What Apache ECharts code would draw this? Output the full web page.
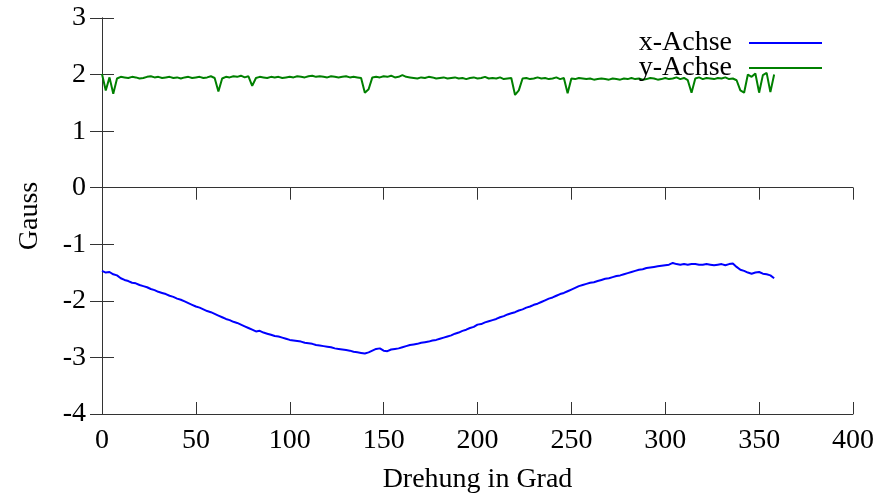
<!DOCTYPE html>
<html>
<head>
<meta charset="utf-8">
<script src="https://cdn.jsdelivr.net/npm/echarts@6/dist/echarts.min.js"></script>
<style>
  html, body { margin: 0; padding: 0; background: #fff; }
  #chart { width: 875px; height: 498px; }
</style>
</head>
<body>
<div id="chart"></div>
<script>
// Drehung in Grad, Schritt 2
const degrees = [];
for (let d = 0; d <= 358; d += 2) degrees.push(d);

const xAchse = [
  -1.47, -1.50, -1.49, -1.53, -1.55, -1.60, -1.63, -1.65, -1.68, -1.69,
  -1.72, -1.74, -1.76, -1.79, -1.81, -1.84, -1.86, -1.88, -1.91, -1.93,
  -1.96, -1.98, -2.01, -2.04, -2.07, -2.10, -2.12, -2.15, -2.18, -2.20,
  -2.23, -2.26, -2.29, -2.32, -2.34, -2.37, -2.39, -2.42, -2.45, -2.48,
  -2.51, -2.54, -2.53, -2.56, -2.58, -2.60, -2.62, -2.63, -2.65, -2.67,
  -2.69, -2.70, -2.71, -2.72, -2.74, -2.75, -2.76, -2.78, -2.79, -2.80,
  -2.81, -2.82, -2.84, -2.85, -2.86, -2.87, -2.88, -2.90, -2.91, -2.92,
  -2.93, -2.91, -2.88, -2.85, -2.84, -2.88, -2.89, -2.86, -2.85, -2.84,
  -2.82, -2.80, -2.78, -2.77, -2.76, -2.74, -2.73, -2.72, -2.70, -2.69,
  -2.67, -2.65, -2.63, -2.61, -2.58, -2.56, -2.53, -2.51, -2.48, -2.46,
  -2.42, -2.41, -2.38, -2.36, -2.34, -2.32, -2.29, -2.27, -2.24, -2.22,
  -2.20, -2.17, -2.15, -2.12, -2.10, -2.07, -2.05, -2.02, -1.99, -1.96,
  -1.94, -1.91, -1.88, -1.86, -1.83, -1.80, -1.77, -1.74, -1.72, -1.70,
  -1.68, -1.67, -1.65, -1.63, -1.61, -1.60, -1.58, -1.56, -1.55, -1.53,
  -1.51, -1.49, -1.47, -1.45, -1.44, -1.42, -1.41, -1.40, -1.39, -1.38,
  -1.37, -1.36, -1.33, -1.35, -1.36, -1.35, -1.36, -1.35, -1.35, -1.36,
  -1.36, -1.35, -1.36, -1.37, -1.36, -1.35, -1.37, -1.35, -1.34, -1.40,
  -1.45, -1.47, -1.50, -1.52, -1.50, -1.49, -1.52, -1.53, -1.55, -1.60
];

const yAchse = [
  2.01, 1.72, 1.95, 1.66, 1.93, 1.96, 1.95, 1.94, 1.96, 1.95,
  1.93, 1.94, 1.96, 1.97, 1.95, 1.96, 1.94, 1.95, 1.96, 1.94,
  1.95, 1.93, 1.95, 1.96, 1.94, 1.95, 1.96, 1.94, 1.95, 1.97,
  1.94, 1.70, 1.93, 1.96, 1.95, 1.97, 1.96, 1.98, 1.95, 1.97,
  1.80, 1.94, 1.96, 1.95, 1.94, 1.96, 1.95, 1.96, 1.94, 1.95,
  1.96, 1.95, 1.97, 1.96, 1.95, 1.97, 1.98, 1.96, 1.97, 1.96,
  1.95, 1.97, 1.96, 1.95, 1.96, 1.97, 1.95, 1.96, 1.95, 1.94,
  1.68, 1.74, 1.95, 1.96, 1.95, 1.97, 1.96, 1.98, 1.95, 1.96,
  1.99, 1.96, 1.95, 1.94, 1.93, 1.95, 1.94, 1.96, 1.95, 1.93,
  1.94, 1.95, 1.93, 1.94, 1.95, 1.93, 1.94, 1.92, 1.94, 1.95,
  1.93, 1.94, 1.96, 1.93, 1.94, 1.93, 1.95, 1.92, 1.93, 1.94,
  1.64, 1.72, 1.93, 1.94, 1.92, 1.93, 1.95, 1.93, 1.94, 1.92,
  1.93, 1.95, 1.92, 1.94, 1.67, 1.93, 1.92, 1.94, 1.93, 1.92,
  1.93, 1.91, 1.92, 1.93, 1.92, 1.91, 1.93, 1.92, 1.91, 1.93,
  1.92, 1.94, 1.92, 1.93, 1.91, 1.92, 1.94, 1.93, 1.91, 1.92,
  1.94, 1.92, 1.93, 1.95, 1.92, 1.94, 1.90, 1.68, 1.93, 1.95,
  1.92, 1.94, 1.93, 1.92, 1.94, 1.93, 1.95, 1.92, 1.93, 1.90,
  1.72, 1.68, 2.00, 1.96, 2.02, 1.68, 1.99, 2.03, 1.69, 2.00
];

const xTicks = { min: 0, max: 400, interval: 50 };
const yTicks = { min: -4, max: 3, interval: 1 };

const font = 'Liberation Serif';
const frameColor = '#333';

const pairs = vals => degrees.map((d, i) => [d, vals[i]]);

const mirrorAxis = (pos) => ({
  position: pos,
  axisLine: { show: true, lineStyle: { color: frameColor, width: 1 } },
  axisTick: { show: true, inside: true, length: 12, lineStyle: { color: frameColor } },
  axisLabel: { show: false },
  splitLine: { show: false }
});

const myChart = echarts.init(document.getElementById('chart'));

const option = {
  backgroundColor: '#fff',
  animation: false,
  textStyle: { fontFamily: font },
  grid: {
    left: 102,
    right: 22,
    top: 18,
    bottom: 84,
    containLabel: false,
    outerBoundsMode: 'none'
  },
  legend: {
    right: 48,
    top: 24,
    orient: 'vertical',
    align: 'right',
    icon: 'rect',
    itemWidth: 73,
    itemHeight: 2,
    itemGap: -3,
    textStyle: {
      fontFamily: font,
      fontSize: 28,
      color: '#000',
      padding: [0, 12, 0, 0]
    },
    data: ['x-Achse', 'y-Achse']
  },
  xAxis: [
    {
      type: 'value',
      min: xTicks.min,
      max: xTicks.max,
      interval: xTicks.interval,
      name: 'Drehung in Grad',
      nameLocation: 'middle',
      nameGap: 52,
      nameTextStyle: { fontFamily: font, fontSize: 28, color: '#000' },
      axisLine: { show: true, onZero: false, lineStyle: { color: frameColor, width: 1 } },
      axisTick: { show: true, inside: true, length: 12, lineStyle: { color: frameColor } },
      axisLabel: { fontFamily: font, fontSize: 28, color: '#000', margin: 13 },
      splitLine: { show: false }
    },
    Object.assign({ type: 'value', min: xTicks.min, max: xTicks.max, interval: xTicks.interval }, mirrorAxis('top'))
  ],
  yAxis: [
    {
      type: 'value',
      min: yTicks.min,
      max: yTicks.max,
      interval: yTicks.interval,
      name: 'Gauss',
      nameLocation: 'middle',
      nameRotate: 90,
      nameGap: 58,
      nameTextStyle: { fontFamily: font, fontSize: 28, color: '#000' },
      axisLine: { show: true, onZero: false, lineStyle: { color: frameColor, width: 1 } },
      axisTick: { show: true, inside: true, length: 12, lineStyle: { color: frameColor } },
      axisLabel: { fontFamily: font, fontSize: 28, color: '#000', margin: 16 },
      splitLine: { show: false }
    },
    Object.assign({ type: 'value', min: yTicks.min, max: yTicks.max, interval: yTicks.interval }, mirrorAxis('right'))
  ],
  series: [
    {
      name: 'x-Achse',
      type: 'line',
      xAxisIndex: 0,
      yAxisIndex: 0,
      symbol: 'none',
      color: '#0000ff',
      lineStyle: { color: '#0000ff', width: 2 },
      data: pairs(xAchse)
    },
    {
      name: 'y-Achse',
      type: 'line',
      xAxisIndex: 0,
      yAxisIndex: 0,
      symbol: 'none',
      color: '#008000',
      lineStyle: { color: '#008000', width: 2 },
      data: pairs(yAchse)
    }
  ]
};

myChart.setOption(option);
</script>
</body>
</html>
